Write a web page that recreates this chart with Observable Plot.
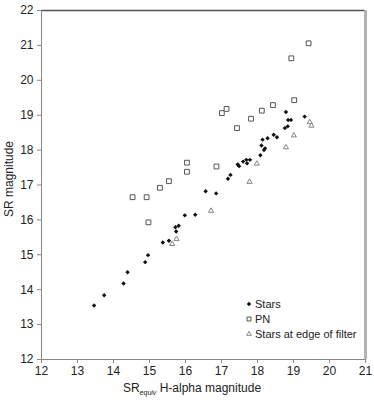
<!DOCTYPE html>
<html><head><meta charset="utf-8">
<script src="https://cdn.jsdelivr.net/npm/d3@7"></script>
<script src="https://cdn.jsdelivr.net/npm/@observablehq/plot@0.6"></script>
<style>body{margin:0;background:#fff} #chart{width:374px;height:411px}</style>
</head><body><div id="chart"></div>
<script>
// Stars
const starsX = [13.46,13.74,14.28,14.39,14.88,14.96,15.37,15.54,15.72,15.81,15.74,15.98,16.27,16.56,16.85,17.18,17.25,17.45,17.49,17.60,17.69,17.71,17.79,18.08,18.18,18.21,18.11,18.14,18.28,18.45,18.54,18.76,18.84,18.85,18.93,18.79,19.31];
const starsY = [13.55,13.84,14.18,14.50,14.79,14.99,15.35,15.40,15.79,15.83,15.67,16.13,16.15,16.82,16.76,17.18,17.29,17.59,17.54,17.67,17.72,17.62,17.72,17.85,18.00,18.05,18.13,18.30,18.34,18.44,18.37,18.63,18.68,18.86,18.86,19.09,18.96];
// PN
const pnX = [14.53,14.92,14.97,15.29,15.54,16.04,16.04,16.86,17.43,17.82,17.01,17.14,18.12,18.43,19.02,18.94,19.42];
const pnY = [16.65,16.65,15.93,16.92,17.11,17.38,17.64,17.53,18.63,18.90,19.06,19.18,19.13,19.29,19.43,20.63,21.06];
// Stars at edge of filter
const edgeX = [15.63,15.75,16.71,17.78,17.98,18.79,19.01,19.45,19.50];
const edgeY = [15.31,15.45,16.26,17.09,17.61,18.08,18.42,18.80,18.70];

const xTicks = [12,13,14,15,16,17,18,19,20,21];
const yTicks = [12,13,14,15,16,17,18,19,20,21,22];
const seriesNames = ["Stars","PN","Stars at edge of filter"];

const stars = starsX.map((x,i)=>({x, y: starsY[i]}));
const pn = pnX.map((x,i)=>({x, y: pnY[i]}));
const edge = edgeX.map((x,i)=>({x, y: edgeY[i]}));

const font = "'Liberation Sans', Arial, sans-serif";
const chart = Plot.plot({
  width: 374, height: 411,
  marginLeft: 41, marginRight: 9, marginTop: 10, marginBottom: 52,
  style: {fontFamily: font, fontSize: "12px", background: "#fff", color: "#222"},
  x: {domain: [12, 21], label: null},
  y: {domain: [12, 22], label: null},
  marks: [
    Plot.ruleY([22], {stroke: "#555", strokeWidth: 1.5}),
    Plot.ruleX([21], {stroke: "#b4b4b4", strokeWidth: 3}),
    Plot.ruleX([12], {stroke: "#888"}),
    Plot.ruleY([12], {stroke: "#888"}),
    Plot.axisX({ticks: xTicks, tickSize: 4, tickPadding: 3, stroke: "#888", fill: "#222", label: null}),
    Plot.axisY({ticks: yTicks, tickSize: 4, tickPadding: 4, stroke: "#888", fill: "#222", label: null}),
    Plot.dot(edge, {x: "x", y: "y", symbol: "triangle", r: 1.9, stroke: "#777", strokeWidth: 0.9, fill: "white"}),
    Plot.dot(pn, {x: "x", y: "y", symbol: "square", r: 2.7, stroke: "#555", strokeWidth: 1, fill: "white"}),
    Plot.dot(stars, {x: "x", y: "y", symbol: "diamond2", r: 2.0, fill: "#111", stroke: "none"})
  ]
});
document.getElementById("chart").append(chart);

const svg = d3.select(chart);
// x label with subscript
const xl = svg.append("text").attr("x", 192).attr("y", 392)
  .attr("text-anchor", "middle").attr("fill", "#222")
  .style("font-family", font).style("font-size", "12px");
xl.append("tspan").text("SR");
xl.append("tspan").attr("dy", 3).style("font-size", "7px").style("font-style", "italic").text("equiv");
xl.append("tspan").attr("dy", -3).text(" H-alpha magnitude");
// y label
svg.append("text").attr("transform", "translate(13,179) rotate(-90)")
  .attr("text-anchor", "middle").attr("fill", "#222")
  .style("font-family", font).style("font-size", "12px").text("SR magnitude");

// legend
const legSyms = [
  {sym: d3.symbolDiamond2, size: Math.PI*2.0*2.0, fill: "#111", stroke: "none", sw: 0},
  {sym: d3.symbolSquare, size: Math.PI*2.2*2.2, fill: "white", stroke: "#555", sw: 1},
  {sym: d3.symbolTriangle, size: Math.PI*1.7*1.7, fill: "white", stroke: "#777", sw: 0.9}
];
const leg = svg.append("g").attr("text-anchor", "start");
seriesNames.forEach((name, i) => {
  const yy = 304 + i*15;
  const s = legSyms[i];
  leg.append("path").attr("transform", `translate(249,${yy})`)
    .attr("d", d3.symbol(s.sym, s.size)()).attr("fill", s.fill)
    .attr("stroke", s.stroke).attr("stroke-width", s.sw);
  leg.append("text").attr("x", 255).attr("y", yy).attr("dy", "0.35em")
    .attr("text-anchor", "start")
    .attr("fill", "#222").style("font-family", font).style("font-size", "11px").text(name);
});
</script>
</body></html>
